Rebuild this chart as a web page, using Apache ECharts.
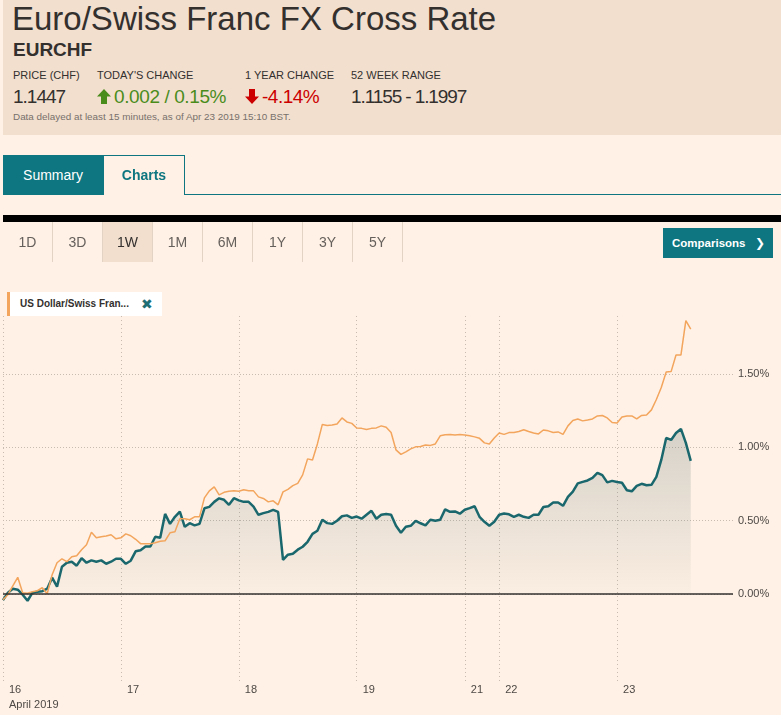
<!DOCTYPE html>
<html>
<head>
<meta charset="utf-8">
<script src="https://cdn.jsdelivr.net/npm/echarts@6.0.0/dist/echarts.min.js"></script>
<style>
  html,body{margin:0;padding:0;}
  body{width:781px;height:715px;background:#fff1e5;position:relative;overflow:hidden;font-family:'Liberation Sans',Arial,sans-serif;color:#33302e;}
  .abs{position:absolute;white-space:nowrap;}
  #chart{position:absolute;left:0;top:0;width:781px;height:715px;}
  #head{left:3px;top:0;width:778px;height:135px;background:#f2dfce;}
  .lbl{font-size:11px;line-height:13px;top:69px;color:#33302e;}
  .val{font-size:19px;line-height:22px;top:86px;color:#33302e;}
  .rng{top:222px;height:40px;width:50px;line-height:40px;text-align:center;font-size:14px;color:#66605c;border-right:1px solid #e3d3c4;box-sizing:border-box;}
</style>
</head>
<body>
<div id="chart"></div>
<div class="abs" id="head"></div>
<div class="abs" style="left:12px;top:0px;font-size:33px;line-height:38px;">Euro/Swiss Franc FX Cross Rate</div>
<div class="abs" style="left:13px;top:39px;font-size:19px;line-height:22px;font-weight:bold;">EURCHF</div>
<div class="abs lbl" style="left:13px;">PRICE (CHF)</div>
<div class="abs lbl" style="left:97px;">TODAY'S CHANGE</div>
<div class="abs lbl" style="left:245px;">1 YEAR CHANGE</div>
<div class="abs lbl" style="left:351px;">52 WEEK RANGE</div>
<div class="abs val" style="left:13px;letter-spacing:-1px;">1.1447</div>
<svg class="abs" style="left:97px;top:89px;" width="14" height="15" viewBox="0 0 14 15"><path d="M7 0 L14 7.5 L10 7.5 L10 15 L4 15 L4 7.5 L0 7.5 Z" fill="#4a8c1c"/></svg>
<div class="abs val" style="left:114px;color:#4a8c1c;letter-spacing:-0.4px;">0.002 / 0.15%</div>
<svg class="abs" style="left:245px;top:89px;" width="14" height="15" viewBox="0 0 14 15"><path d="M7 15 L14 7.5 L10 7.5 L10 0 L4 0 L4 7.5 L0 7.5 Z" fill="#cc0000"/></svg>
<div class="abs val" style="left:262px;color:#cc0000;letter-spacing:-0.5px;">-4.14%</div>
<div class="abs val" style="left:351px;letter-spacing:-1.1px;">1.1155 - 1.1997</div>
<div class="abs" style="left:13px;top:111px;font-size:9.9px;line-height:12px;color:#77706b;">Data delayed at least 15 minutes, as of Apr 23 2019 15:10 BST.</div>

<div class="abs" style="left:3px;top:155px;width:100px;height:40px;background:#0d7680;color:#fff;font-size:14px;line-height:40px;text-align:center;">Summary</div>
<div class="abs" style="left:103px;top:155px;width:82px;height:40px;box-sizing:border-box;border:1px solid #0d7680;border-bottom:none;color:#0d7680;font-size:14px;font-weight:bold;line-height:39px;text-align:center;">Charts</div>
<div class="abs" style="left:185px;top:194px;width:596px;height:1px;background:#0d7680;"></div>

<div class="abs" style="left:3px;top:215px;width:778px;height:7px;background:#000;"></div>
<div id="ranges"></div>
<div class="abs" style="left:663px;top:228px;width:110px;height:30px;background:#0d7680;color:#fff;font-size:11.5px;font-weight:bold;line-height:30px;">
  <span style="position:absolute;left:9px;">Comparisons</span>
  <span style="position:absolute;left:92px;font-family:'DejaVu Sans';font-size:12px;">❯</span>
</div>

<div class="abs" style="left:7px;top:292px;width:155px;height:24px;background:#fff;border-left:3px solid #f3a55d;box-sizing:border-box;">
  <span style="position:absolute;left:10px;top:0;line-height:24px;font-size:10px;font-weight:bold;color:#33302e;">US Dollar/Swiss Fran...</span>
  <span style="position:absolute;left:131px;top:0;line-height:24px;font-size:14px;font-weight:bold;color:#1f6e73;font-family:'DejaVu Sans';">✖</span>
</div>

<script>
// ---- data ----
const rangeButtons = ['1D','3D','1W','1M','6M','1Y','3Y','5Y'];
const selectedRange = '1W';
const stepHours = 1;
const dayTickPos = [0, 24, 48, 72, 94, 101, 125];
const dayTickLabels = ['16','17','18','19','21','22','23'];
const monthLabel = 'April 2019';
const yTickValues = [0, 0.5, 1, 1.5];

const eurchf = [
 -0.042,0.009,0.036,0.029,-0.005,-0.046,0.009,0.016,0.019,0.036,
 0.111,0.050,0.186,0.213,0.220,0.193,0.244,0.213,0.229,0.220,
 0.229,0.206,0.220,0.240,0.240,0.206,0.227,0.291,0.298,0.324,
 0.324,0.390,0.383,0.546,0.478,0.526,0.562,0.458,0.483,0.468,
 0.478,0.584,0.594,0.628,0.652,0.642,0.608,0.653,0.638,0.628,
 0.628,0.596,0.540,0.551,0.560,0.574,0.560,0.233,0.268,0.274,
 0.302,0.322,0.356,0.410,0.431,0.506,0.483,0.478,0.499,0.530,
 0.536,0.519,0.528,0.513,0.540,0.567,0.513,0.540,0.545,0.540,
 0.465,0.417,0.458,0.465,0.499,0.482,0.468,0.506,0.499,0.506,
 0.577,0.560,0.563,0.547,0.574,0.585,0.598,0.526,0.492,0.465,
 0.492,0.540,0.549,0.543,0.526,0.540,0.526,0.519,0.540,0.540,
 0.593,0.598,0.624,0.624,0.601,0.662,0.698,0.754,0.764,0.774,
 0.792,0.826,0.810,0.761,0.771,0.764,0.758,0.707,0.700,0.737,
 0.751,0.741,0.744,0.798,0.914,1.064,1.050,1.098,1.125,1.030,
 0.907
];
const usdchf = [
 -0.039,-0.005,0.056,0.114,0.009,0.005,0.016,0.022,0.043,0.002,
 0.131,0.213,0.240,0.220,0.254,0.261,0.302,0.336,0.421,0.383,
 0.390,0.395,0.404,0.376,0.383,0.410,0.397,0.373,0.343,0.343,
 0.343,0.349,0.359,0.363,0.417,0.424,0.513,0.513,0.506,0.526,
 0.526,0.655,0.703,0.730,0.676,0.693,0.700,0.703,0.700,0.710,
 0.703,0.703,0.662,0.651,0.628,0.635,0.608,0.696,0.713,0.739,
 0.754,0.812,0.921,0.914,1.023,1.156,1.149,1.152,1.159,1.200,
 1.173,1.163,1.132,1.129,1.122,1.129,1.132,1.146,1.136,1.101,
 0.982,0.952,0.969,0.989,1.003,1.006,1.016,1.013,1.023,1.078,
 1.086,1.088,1.084,1.088,1.084,1.078,1.071,1.061,1.030,1.023,
 1.064,1.098,1.088,1.100,1.101,1.108,1.120,1.108,1.098,1.091,
 1.118,1.112,1.101,1.105,1.088,1.146,1.183,1.193,1.180,1.186,
 1.193,1.214,1.217,1.200,1.169,1.166,1.207,1.214,1.214,1.193,
 1.217,1.220,1.255,1.326,1.408,1.513,1.516,1.629,1.629,1.864,
 1.806
];

// range buttons
(function(){
  const host = document.getElementById('ranges');
  rangeButtons.forEach((t,i)=>{
    const d = document.createElement('div');
    d.className = 'abs rng';
    d.style.left = (3 + i*50) + 'px';
    if (t === selectedRange) { d.style.background = '#f2dfce'; d.style.color = '#33302e'; }
    d.textContent = t;
    host.appendChild(d);
  });
})();

const chart = echarts.init(document.getElementById('chart'), null, {renderer:'canvas'});
const toXY = arr => arr.map((v,i)=>[i*stepHours, v]);
const axisFont = {fontFamily:'Liberation Sans, Arial, sans-serif', fontSize:11, color:'#4d4845'};

chart.setOption({
  animation:false,
  backgroundColor:'transparent',
  grid:{left:3, right:48, top:316, bottom:33, containLabel:false},
  xAxis:{
    type:'value', min:0, max:148.6,
    axisLine:{show:false},
    axisTick:{show:false, customValues:dayTickPos},
    axisLabel:{
      customValues:dayTickPos,
      align:'left', margin:0, padding:[0,0,0,6], lineHeight:15,
      ...axisFont,
      formatter:(v)=>{
        const i = dayTickPos.indexOf(v);
        if (i < 0) return '';
        return i === 0 ? dayTickLabels[0] + '\n' + monthLabel : dayTickLabels[i];
      }
    },
    splitLine:{show:true, lineStyle:{color:'#c8bcb1', width:1, type:[1,3]}}
  },
  yAxis:{
    type:'value', position:'right', min:-0.6, max:1.895,
    axisLine:{show:false},
    axisTick:{show:false, customValues:yTickValues},
    axisLabel:{customValues:yTickValues, margin:5, ...axisFont, formatter:v=>v.toFixed(2)+'%'},
    splitLine:{show:true, lineStyle:{color:'#c8bcb1', width:1, type:[1,2]}}
  },
  series:[
    {
      name:'EURCHF', type:'line', data:toXY(eurchf), symbol:'none', z:2,
      lineStyle:{color:'#1a686d', width:2.5},
      areaStyle:{color:new echarts.graphic.LinearGradient(0,0,0,1,[
        {offset:0, color:'rgba(60,95,95,0.30)'},
        {offset:0.5, color:'rgba(60,95,95,0.16)'},
        {offset:1, color:'rgba(60,95,95,0.02)'}
      ])},
      markLine:{silent:true, symbol:'none', label:{show:false},
        lineStyle:{color:'#33302e', width:1.5, type:'solid'},
        data:[{yAxis:0}]}
    },
    {
      name:'USDCHF', type:'line', data:toXY(usdchf), symbol:'none', z:3,
      lineStyle:{color:'#f3a55d', width:1.5}
    }
  ]
});
</script>
</body>
</html>
